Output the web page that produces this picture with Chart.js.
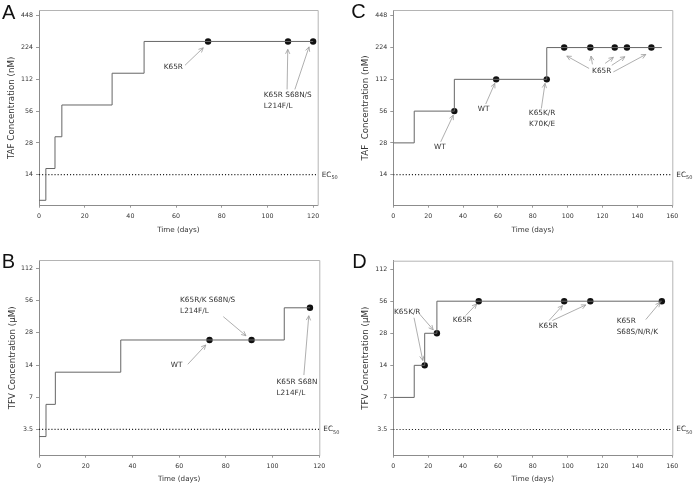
<!DOCTYPE html>
<html>
<head>
<meta charset="utf-8">
<script src="https://cdn.jsdelivr.net/npm/chart.js@4.4.1/dist/chart.umd.min.js"></script>
<style>
body { margin: 0; background: #fff; }
#wrap { position: relative; width: 694px; height: 484px; }
canvas { position: absolute; }
</style>
</head>
<body>
<div id="wrap">
  <canvas id="chartA" width="347" height="242" style="left:0px;top:0px"></canvas>
  <canvas id="chartC" width="347" height="242" style="left:347px;top:0px"></canvas>
  <canvas id="chartB" width="347" height="242" style="left:0px;top:242px"></canvas>
  <canvas id="chartD" width="347" height="242" style="left:347px;top:242px"></canvas>
</div>
<script>
// step data: day the concentration was raised and the new concentration
var daysA = [0, 3, 7, 10, 32, 46, 120];
var concA = [8, 16, 32, 64, 128, 256, 256];
var hitDaysA = [74, 109, 120];
var hitConcA = [256, 256, 256];

var daysC = [0, 12, 35, 88, 154];
var concC = [28, 56, 112, 224, 224];
var hitDaysC = [35, 59, 88, 98, 113, 127, 134, 148];
var hitConcC = [56, 112, 112, 224, 224, 224, 224, 224];

var daysB = [0, 3, 7, 35, 105, 116];
var concB = [3, 6, 12, 24, 48, 48];
var hitDaysB = [73, 91, 116];
var hitConcB = [24, 24, 48];

var daysD = [0, 12, 18, 25, 154];
var concD = [7, 14, 28, 56, 56];
var hitDaysD = [18, 25, 49, 98, 113, 154];
var hitConcD = [14, 28, 56, 56, 56, 56];

// tick labels
var xTicks120 = [0, 20, 40, 60, 80, 100, 120];
var xTicks160 = [0, 20, 40, 60, 80, 100, 120, 140, 160];
var yTicksTAF = [14, 28, 56, 112, 224, 448];
var yTicksTFV = [3.5, 7, 14, 28, 56, 112];
var ec50TAF = 14;
var ec50TFV = 3.5;

var FONT = '"DejaVu Sans", Verdana, sans-serif';

function log2(v) { return Math.log(v) / Math.LN2; }

function fmtConc(v) {
  var c = Math.pow(2, v);
  return String(Math.round(c * 10) / 10);
}

function toPoints(xs, ys) {
  var pts = [];
  for (var i = 0; i < xs.length; i++) pts.push({ x: xs[i], y: log2(ys[i]) });
  return pts;
}

function drawArrow(ctx, x0, y0, x1, y1) {
  var a = Math.atan2(y1 - y0, x1 - x0);
  var L = 5, w = 0.45;
  ctx.beginPath();
  ctx.moveTo(x0, y0);
  ctx.lineTo(x1, y1);
  ctx.moveTo(x1 - L * Math.cos(a - w), y1 - L * Math.sin(a - w));
  ctx.lineTo(x1, y1);
  ctx.lineTo(x1 - L * Math.cos(a + w), y1 - L * Math.sin(a + w));
  ctx.stroke();
}

function makePanel(id, p) {
  // notes are in (day, log2 conc) so they go through the scales
  var notesPlugin = {
    id: 'notes' + id,
    afterDraw: function(chart) {
      var ctx = chart.ctx;
      var xs = chart.scales.x, ys = chart.scales.y;
      var area = chart.chartArea;
      ctx.save();
      // top and right frame
      ctx.strokeStyle = '#b4b4b4';
      ctx.lineWidth = 1;
      ctx.beginPath();
      ctx.moveTo(area.left, area.top + 0.5);
      ctx.lineTo(area.right + 0.5, area.top + 0.5);
      ctx.lineTo(area.right + 0.5, area.bottom);
      ctx.stroke();

      // arrows + text
      ctx.strokeStyle = '#9a9a9a';
      ctx.lineWidth = 0.8;
      ctx.fillStyle = '#333';
      ctx.font = '7.3px ' + FONT;
      ctx.textBaseline = 'middle';
      p.notes.forEach(function(n) {
        ctx.textAlign = n.align || 'center';
        var tx = xs.getPixelForValue(n.at[0]);
        var ty = ys.getPixelForValue(n.at[1]);
        n.text.forEach(function(line, k) {
          ctx.fillText(line, tx, ty + k * 10.7);
        });
        (n.arrows || []).forEach(function(a) {
          drawArrow(ctx, xs.getPixelForValue(a[0]), ys.getPixelForValue(a[1]),
            xs.getPixelForValue(a[2]), ys.getPixelForValue(a[3]));
        });
      });

      // EC50 label
      var ey = ys.getPixelForValue(log2(p.ec50));
      ctx.textAlign = 'left';
      ctx.fillStyle = '#333';
      ctx.font = '7.3px ' + FONT;
      ctx.fillText('EC', area.right + 4, ey);
      var w = ctx.measureText('EC').width;
      ctx.font = '5px ' + FONT;
      ctx.fillText('50', area.right + 4 + w, ey + 3);

      // panel letter
      ctx.font = '20px "Liberation Sans", Arial, sans-serif';
      ctx.textBaseline = 'alphabetic';
      ctx.fillStyle = '#111';
      ctx.fillText(p.letter, p.letterPos[0], p.letterPos[1]);
      ctx.restore();
    }
  };

  var ecY = log2(p.ec50);
  return new Chart(document.getElementById(id).getContext('2d'), {
    type: 'line',
    data: {
      datasets: [
        {
          data: toPoints(p.days, p.conc),
          stepped: true,
          borderColor: '#666',
          borderWidth: 1,
          pointRadius: 0,
          fill: false
        },
        {
          data: toPoints(p.hitDays, p.hitConc),
          showLine: false,
          pointRadius: 3.2,
          pointBackgroundColor: '#111',
          pointBorderWidth: 0
        },
        {
          data: [{ x: 0, y: ecY }, { x: p.xMax, y: ecY }],
          borderColor: '#222',
          borderWidth: 1.2,
          borderDash: [1.1, 2],
          pointRadius: 0,
          fill: false
        }
      ]
    },
    options: {
      responsive: false,
      animation: false,
      devicePixelRatio: 1,
      layout: { padding: { left: 0, top: p.padTop, right: p.padRight, bottom: 0 } },
      plugins: { legend: { display: false }, tooltip: { enabled: false } },
      scales: {
        x: {
          type: 'linear',
          min: 0,
          max: p.xMax,
          afterBuildTicks: function(s) { s.ticks = p.xTicks.map(function(v) { return { value: v }; }); },
          afterFit: function(s) { s.height = p.xHeight; },
          grid: { drawOnChartArea: false, drawTicks: true, tickLength: 2, color: '#999' },
          border: { color: '#8c8c8c', width: 1 },
          ticks: { font: { size: 6.3, family: FONT }, color: '#333', padding: 5, maxRotation: 0 },
          title: { display: true, text: 'Time (days)', font: { size: 7.2, family: FONT }, color: '#333',
                   padding: { top: 0, bottom: p.xTitlePad } }
        },
        y: {
          type: 'linear',
          min: p.yMin,
          max: p.yMax,
          afterBuildTicks: function(s) { s.ticks = p.yTicks.map(function(v) { return { value: log2(v) }; }); },
          afterFit: function(s) { s.width = p.yWidth; },
          grid: { drawOnChartArea: false, drawTicks: true, tickLength: 3, color: '#999' },
          border: { color: '#8c8c8c', width: 1 },
          ticks: { font: { size: 6.3, family: FONT }, color: '#333', padding: 3, callback: function(v) { return fmtConc(v); } },
          title: { display: true, text: p.yTitle, font: { size: 8.7, family: FONT }, color: '#333',
                   padding: { top: p.yTitlePad, bottom: 0 } }
        }
      }
    },
    plugins: [notesPlugin]
  });
}

makePanel('chartA', {
  days: daysA, conc: concA, hitDays: hitDaysA, hitConc: hitConcA,
  xMax: 122, xTicks: xTicks120, yMin: 2.83, yMax: 8.99, yTicks: yTicksTAF, ec50: ec50TAF,
  yTitle: 'TAF Concentration (nM)', letter: 'A', letterPos: [2, 19.3],
  padTop: 10, padRight: 29.3, yWidth: 39, xHeight: 36.3, xTitlePad: 7.8, yTitlePad: 6.6,
  notes: [
    { text: ['K65R'], at: [58.8, 7.19], arrows: [[63.9, 7.25, 71.9, 7.8]] },
    { text: ['K65R S68N/S', 'L214F/L'], at: [98.4, 6.31], align: 'left',
      arrows: [[108.6, 6.49, 108.9, 7.75], [112.0, 6.49, 118.2, 7.83]] }
  ]
});

makePanel('chartC', {
  days: daysC, conc: concC, hitDays: hitDaysC, hitConc: hitConcC,
  xMax: 160, xTicks: xTicks160, yMin: 2.83, yMax: 8.99, yTicks: yTicksTAF, ec50: ec50TAF,
  yTitle: 'TAF  Concentration (nM)', letter: 'C', letterPos: [4.3, 18.3],
  padTop: 10, padRight: 21.7, yWidth: 46.3, xHeight: 36.3, xTitlePad: 7.8, yTitlePad: 13.6,
  notes: [
    { text: ['WT'], at: [26.7, 4.685], arrows: [[27.2, 4.84, 34.4, 5.68]] },
    { text: ['WT'], at: [51.8, 5.86], arrows: [[53.0, 6.03, 58.2, 6.68]] },
    { text: ['K65K/R', 'K70K/E'], at: [85.3, 5.736], arrows: [[84.9, 5.89, 87.0, 6.68]] },
    { text: ['K65R'], at: [119.5, 7.066],
      arrows: [[112.3, 7.15, 99.5, 7.54], [114.2, 7.28, 113.4, 7.54], [121.5, 7.31, 126.2, 7.5],
               [125.3, 7.25, 132.8, 7.52], [126.2, 7.04, 144.8, 7.59]] }
  ]
});

makePanel('chartB', {
  days: daysB, conc: concB, hitDays: hitDaysB, hitConc: hitConcB,
  xMax: 120, xTicks: xTicks120, yMin: 0.99, yMax: 7.07, yTicks: yTicksTFV, ec50: ec50TFV,
  yTitle: 'TFV Concentration (\u00b5M)', letter: 'B', letterPos: [1.7, 26.3],
  padTop: 18, padRight: 27.7, yWidth: 39, xHeight: 28.3, xTitlePad: 0.5, yTitlePad: 7.6,
  notes: [
    { text: ['K65R/K S68N/S', 'L214F/L'], at: [60.4, 5.825], align: 'left',
      arrows: [[78.9, 5.31, 88.6, 4.717]] },
    { text: ['WT'], at: [58.9, 3.807], arrows: [[63.7, 3.83, 71.4, 4.43]] },
    { text: ['K65R S68N', 'L214F/L'], at: [101.7, 3.27], align: 'left',
      arrows: [[113.4, 3.496, 115.5, 5.338]] }
  ]
});

makePanel('chartD', {
  days: daysD, conc: concD, hitDays: hitDaysD, hitConc: hitConcD,
  xMax: 160, xTicks: xTicks160, yMin: 0.99, yMax: 7.07, yTicks: yTicksTFV, ec50: ec50TFV,
  yTitle: 'TFV Concentration (\u00b5M)', letter: 'D', letterPos: [5.3, 26.3],
  padTop: 18.7, padRight: 21.7, yWidth: 46.3, xHeight: 28.3, xTitlePad: 0.5, yTitlePad: 13.6,
  notes: [
    { text: ['K65K/R'], at: [8.0, 5.46],
      arrows: [[11.9, 5.29, 16.9, 3.96], [14.7, 5.43, 22.9, 4.915]] },
    { text: ['K65R'], at: [39.6, 5.204], arrows: [[41.5, 5.36, 47.8, 5.72]] },
    { text: ['K65R'], at: [88.9, 5.02],
      arrows: [[89.3, 5.204, 97.0, 5.67], [91.2, 5.204, 110.4, 5.69]] },
    { text: ['K65R', 'S68S/N/R/K'], at: [128.1, 5.18], align: 'left',
      arrows: [[144.8, 5.235, 153.0, 5.77]] }
  ]
});
</script>
</body>
</html>
